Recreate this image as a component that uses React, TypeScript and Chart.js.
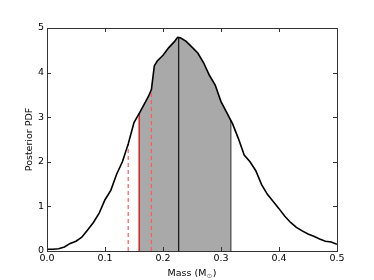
import { useEffect, useRef } from "react";
import { Chart, registerables } from "chart.js";

Chart.register(...registerables);

// Posterior PDF samples (mass in solar masses)
const massGrid = [
  0.0, 0.01, 0.02, 0.03, 0.04, 0.05, 0.06, 0.07, 0.08, 0.09,
  0.1, 0.11, 0.12, 0.13, 0.14, 0.15, 0.16, 0.17, 0.175, 0.18,
  0.185, 0.19, 0.2, 0.21, 0.22, 0.225, 0.23, 0.24, 0.25, 0.26,
  0.27, 0.28, 0.29, 0.3, 0.31, 0.32, 0.33, 0.34, 0.35, 0.36,
  0.37, 0.38, 0.39, 0.4, 0.41, 0.42, 0.43, 0.44, 0.45, 0.46,
  0.47, 0.48, 0.49, 0.5,
];
const pdfValues = [
  0.04, 0.04, 0.05, 0.09, 0.17, 0.22, 0.31, 0.47, 0.64, 0.85,
  1.15, 1.36, 1.72, 2.0, 2.4, 2.88, 3.11, 3.35, 3.47, 3.62,
  4.15, 4.26, 4.39, 4.56, 4.7, 4.79, 4.78, 4.7, 4.57, 4.44,
  4.22, 3.94, 3.72, 3.35, 3.1, 2.85, 2.52, 2.15, 2.0, 1.8,
  1.49, 1.27, 1.11, 0.95, 0.78, 0.64, 0.53, 0.45, 0.38, 0.33,
  0.27, 0.22, 0.2, 0.15,
];

// Summary statistics
const credibleLow = 0.159;
const credibleHigh = 0.317;
const medianMass = 0.227;
const dashedMarks = [0.14, 0.18];

const xTicks = [0, 0.1, 0.2, 0.3, 0.4, 0.5];
const yTicks = [0, 1, 2, 3, 4, 5];

const xTitleMain = "Mass (M";
const xTitleSub = "\u2299";
const xTitleEnd = ")";

function interp(v: number): number {
  for (let i = 0; i < massGrid.length - 1; i++) {
    const a = massGrid[i];
    const b = massGrid[i + 1];
    if (v >= a && v <= b) {
      const t = (v - a) / (b - a);
      return pdfValues[i] + t * (pdfValues[i + 1] - pdfValues[i]);
    }
  }
  return 0;
}

const FONT = "'DejaVu Sans', sans-serif";

const frameTicks = {
  id: "frameTicks",
  afterDraw(chart: any) {
    const { ctx, chartArea } = chart;
    const { left, right, top, bottom } = chartArea;
    const xs = chart.scales.x;
    const ys = chart.scales.y;
    ctx.save();
    ctx.strokeStyle = "#333";
    ctx.lineWidth = 1;
    ctx.beginPath();
    const L = 4;
    xTicks.forEach((t) => {
      const px = Math.round(xs.getPixelForValue(t)) + 0.5;
      ctx.moveTo(px, bottom);
      ctx.lineTo(px, bottom - L);
      ctx.moveTo(px, top);
      ctx.lineTo(px, top + L);
    });
    yTicks.forEach((t) => {
      const py = Math.round(ys.getPixelForValue(t)) + 0.5;
      ctx.moveTo(left, py);
      ctx.lineTo(left + L, py);
      ctx.moveTo(right, py);
      ctx.lineTo(right - L, py);
    });
    ctx.stroke();
    ctx.strokeRect(Math.round(left) + 0.5, Math.round(top) + 0.5, Math.round(right - left), Math.round(bottom - top));

    // x-axis title with subscript sun symbol
    const mainFont = `9.5px ${FONT}`;
    const subFont = `6.5px ${FONT}`;
    ctx.fillStyle = "#000";
    ctx.textBaseline = "alphabetic";
    ctx.textAlign = "left";
    ctx.font = mainFont;
    const w1 = ctx.measureText(xTitleMain).width;
    const w3 = ctx.measureText(xTitleEnd).width;
    ctx.font = subFont;
    const w2 = ctx.measureText(xTitleSub).width;
    const total = w1 + w2 + w3 + 1;
    const cx = (left + right) / 2;
    const baseY = 275.5;
    let x0 = cx - total / 2;
    ctx.font = mainFont;
    ctx.fillText(xTitleMain, x0, baseY);
    x0 += w1 + 0.5;
    ctx.font = subFont;
    ctx.fillStyle = "#555";
    ctx.fillText(xTitleSub, x0, baseY + 2);
    x0 += w2 + 0.5;
    ctx.fillStyle = "#000";
    ctx.font = mainFont;
    ctx.fillText(xTitleEnd, x0, baseY);
    ctx.restore();
  },
};

export default function App() {
  const ref = useRef<HTMLCanvasElement>(null);

  useEffect(() => {
    if (!ref.current) return;
    const curve = massGrid.map((m, i) => ({ x: m, y: pdfValues[i] }));
    const shaded = [
      { x: credibleLow, y: interp(credibleLow) },
      ...massGrid
        .map((m, i) => ({ x: m, y: pdfValues[i] }))
        .filter((p) => p.x > credibleLow && p.x < credibleHigh),
      { x: credibleHigh, y: interp(credibleHigh) },
    ];
    const vline = (v: number) => [
      { x: v, y: 0 },
      { x: v, y: interp(v) },
    ];
    const common = { pointRadius: 0, fill: false, tension: 0 };
    const chart = new Chart(ref.current, {
      type: "line",
      data: {
        datasets: [
          { ...common, label: "PDF", data: curve, borderColor: "#000", borderWidth: 1.6 },
          { ...common, label: "median", data: vline(medianMass), borderColor: "#111", borderWidth: 1.2 },
          { ...common, label: "upper", data: vline(credibleHigh), borderColor: "#444", borderWidth: 1.2 },
          { ...common, label: "lower", data: vline(credibleLow), borderColor: "#d42a2a", borderWidth: 1.6 },
          ...dashedMarks.map((d) => ({
            ...common,
            label: "mark",
            data: vline(d),
            borderColor: "#ff5a5a",
            borderWidth: 1.2,
            borderDash: [4, 3],
          })),
          {
            ...common,
            label: "credible",
            data: shaded,
            borderWidth: 0,
            borderColor: "rgba(0,0,0,0)",
            backgroundColor: "#a9a9a9",
            fill: "origin",
          },
        ],
      },
      options: {
        animation: false,
        responsive: false,
        layout: { padding: { left: 0, top: 28, right: 37, bottom: 0 } },
        plugins: { legend: { display: false }, tooltip: { enabled: false } },
        scales: {
          x: {
            type: "linear",
            min: 0,
            max: 0.5,
            afterBuildTicks: (s: any) => {
              s.ticks = xTicks.map((v) => ({ value: v }));
            },
            afterFit: (s: any) => {
              s.height = 29;
            },
            ticks: {
              callback: (v: any) => Number(v).toFixed(1),
              font: { family: FONT, size: 9.5 },
              color: "#000",
              maxRotation: 0,
              padding: 2,
            },
            grid: { display: false, drawTicks: false },
            border: { display: false },
            title: { display: false },
          },
          y: {
            min: 0,
            max: 5,
            afterBuildTicks: (s: any) => {
              s.ticks = yTicks.map((v) => ({ value: v }));
            },
            afterFit: (s: any) => {
              s.width = 47;
            },
            ticks: {
              callback: (v: any) => String(v),
              font: { family: FONT, size: 9.5 },
              color: "#000",
              padding: 3,
            },
            grid: { display: false, drawTicks: false },
            border: { display: false },
            title: {
              display: true,
              text: "Posterior PDF",
              font: { family: FONT, size: 9.5 },
              color: "#000",
              padding: { top: 24, bottom: 0 },
            },
          },
        },
      },
      plugins: [frameTicks],
    });
    return () => chart.destroy();
  }, []);

  return (
    <div style={{ position: "fixed", left: 0, top: 0, width: 374, height: 280, background: "#fff" }}>
      <canvas ref={ref} width={374} height={280} style={{ width: 374, height: 280 }} />
    </div>
  );
}
